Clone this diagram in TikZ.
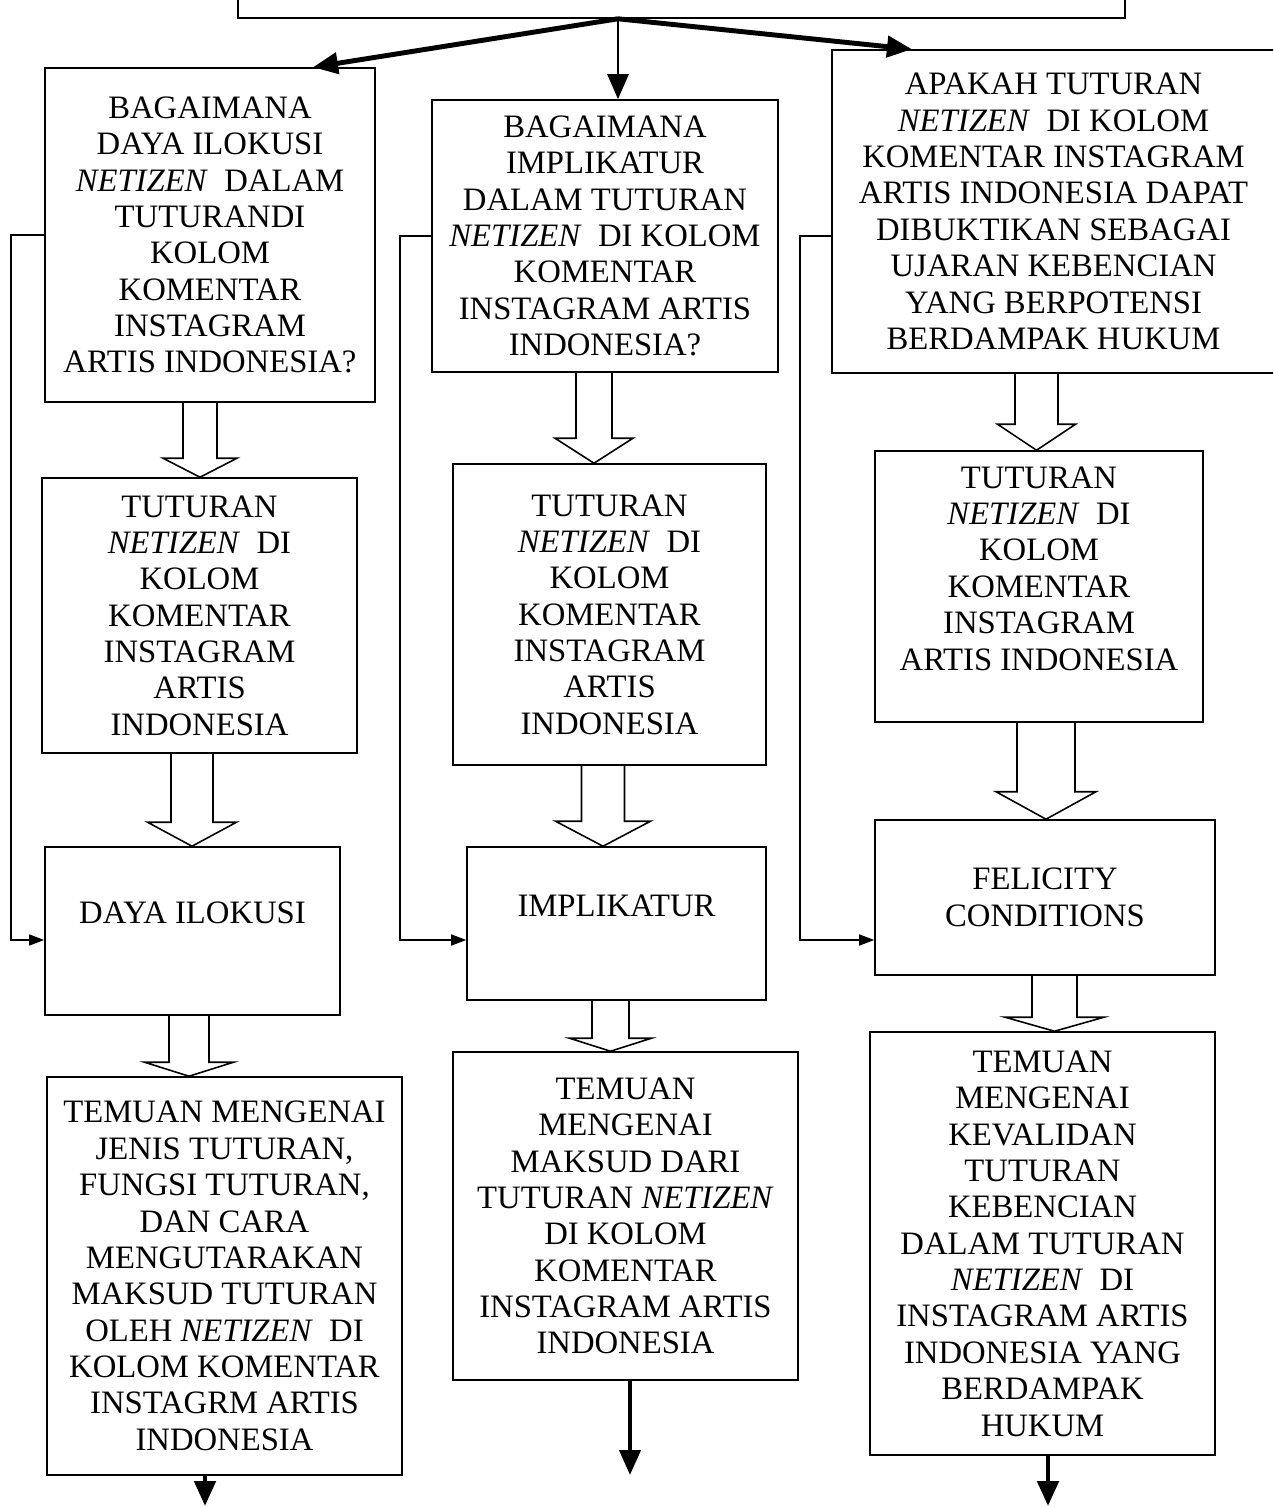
\documentclass[tikz,border=0pt]{standalone}
\usepackage{fontspec}
\setmainfont{Liberation Serif}
\usetikzlibrary{arrows.meta,calc}

\tikzset{
  box/.style={draw, line width=0.9pt, align=center, inner sep=0pt,
    font=\fontsize{18.6}{20.7}\selectfont},
  bigarrow/.style={-{Triangle[length=0.5cm,width=0.42cm]}},
  sidearrow/.style={line width=0.8pt, -{Triangle[length=0.3cm,width=0.22cm]}},
  hollow/.style={line width=0.9pt}
}

\newcommand{\hollowdown}[6]{%
  \coordinate (hd) at ($(#2.north)+(0,#6)$);
  \draw [hollow] ({#3-#4},0 |- #1.south) -- ({#3-#4},0 |- hd) -- ({#3-#5},0 |- hd)
    -- (#3,0 |- #2.north) -- ({#3+#5},0 |- hd) -- ({#3+#4},0 |- hd) -- ({#3+#4},0 |- #1.south);
}

\begin{document}
\begin{tikzpicture}
\useasboundingbox (0,0) rectangle (25.46,-30.14);
\clip (0,0) rectangle (25.46,-30.14);

\node[box, minimum width=17.74cm, minimum height=2cm] (top) at (13.63,0.64) {};

\node[box, minimum width=6.6cm, minimum height=6.68cm] (q1) at (4.2,-4.7)
  {BAGAIMANA\\DAYA ILOKUSI\\\textit{NETIZEN}~ DALAM\\TUTURANDI\\KOLOM\\KOMENTAR\\INSTAGRAM\\ARTIS INDONESIA?};
\node[box, minimum width=6.3cm, minimum height=5.5cm] (t1) at (3.99,-12.31)
  {TUTURAN\\\textit{NETIZEN}~ DI\\KOLOM\\KOMENTAR\\INSTAGRAM\\ARTIS\\INDONESIA};
\node[box, minimum width=5.9cm, minimum height=3.36cm] (d1) at (3.85,-18.62)
  {DAYA ILOKUSI\\~};
\node[box, minimum width=7.1cm, minimum height=7.96cm] (r1) at (4.49,-25.52)
  {TEMUAN MENGENAI\\JENIS TUTURAN,\\FUNGSI TUTURAN,\\DAN CARA\\MENGUTARAKAN\\MAKSUD TUTURAN\\OLEH \textit{NETIZEN}~ DI\\KOLOM KOMENTAR\\INSTAGRM ARTIS\\INDONESIA};

\node[box, minimum width=6.92cm, minimum height=5.44cm] (q2) at (12.1,-4.72)
  {BAGAIMANA\\IMPLIKATUR\\DALAM TUTURAN\\\textit{NETIZEN}~ DI KOLOM\\KOMENTAR\\INSTAGRAM ARTIS\\INDONESIA?};
\node[box, minimum width=6.26cm, minimum height=6.02cm] (t2) at (12.19,-12.29)
  {TUTURAN\\\textit{NETIZEN}~ DI\\KOLOM\\KOMENTAR\\INSTAGRAM\\ARTIS\\INDONESIA};
\node[box, minimum width=5.98cm, minimum height=3.06cm] (i2) at (12.33,-18.47)
  {IMPLIKATUR\\~};
\node[box, minimum width=6.9cm, minimum height=6.56cm] (r2) at (12.51,-24.32)
  {TEMUAN\\MENGENAI\\MAKSUD DARI\\TUTURAN \textit{NETIZEN}\\DI KOLOM\\KOMENTAR\\INSTAGRAM ARTIS\\INDONESIA};

\node[box, minimum width=8.86cm, minimum height=6.46cm] (q3) at (21.07,-4.23)
  {APAKAH TUTURAN\\\textit{NETIZEN}~ DI KOLOM\\KOMENTAR INSTAGRAM\\ARTIS INDONESIA DAPAT\\DIBUKTIKAN SEBAGAI\\UJARAN KEBENCIAN\\YANG BERPOTENSI\\BERDAMPAK HUKUM};
\node[box, minimum width=6.56cm, minimum height=5.42cm] (t3) at (20.78,-11.73)
  {TUTURAN\\\textit{NETIZEN}~ DI\\KOLOM\\KOMENTAR\\INSTAGRAM\\ARTIS INDONESIA\\~};
\node[box, minimum width=6.8cm, minimum height=3.1cm] (f3) at (20.9,-17.95)
  {FELICITY\\CONDITIONS};
\node[box, minimum width=6.9cm, minimum height=8.46cm] (r3) at (20.85,-24.87)
  {TEMUAN\\MENGENAI\\KEVALIDAN\\TUTURAN\\KEBENCIAN\\DALAM TUTURAN\\\textit{NETIZEN}~ DI\\INSTAGRAM ARTIS\\INDONESIA YANG\\BERDAMPAK\\HUKUM};

\draw [bigarrow, line width=2.8pt] (12.36,0 |- top.south) -- (6.26,0 |- q1.north);
\draw [bigarrow, line width=1.6pt] (12.36,0 |- top.south) -- (12.36,0 |- q2.north);
\draw [bigarrow, line width=2.8pt] (12.36,0 |- top.south) -- (18.24,0 |- q3.north);

\hollowdown{q1}{t1}{4.0}{0.34}{0.74}{0.38}
\hollowdown{t1}{d1}{3.84}{0.42}{0.89}{0.48}
\hollowdown{d1}{r1}{3.78}{0.4}{0.89}{0.28}
\hollowdown{q2}{t2}{11.88}{0.36}{0.78}{0.5}
\hollowdown{t2}{i2}{12.06}{0.43}{0.95}{0.5}
\hollowdown{i2}{r2}{12.21}{0.37}{0.82}{0.26}
\hollowdown{q3}{t3}{20.73}{0.43}{0.78}{0.52}
\hollowdown{t3}{f3}{20.92}{0.58}{1.0}{0.55}
\hollowdown{f3}{r3}{21.09}{0.45}{0.99}{0.28}

\draw [sidearrow] (q1.west) -- (0.22,0 |- q1.west) |- ([yshift=-0.18cm]d1.west);
\draw [sidearrow] (q2.west) -- (8.0,0 |- q2.west) |- ([yshift=-0.33cm]i2.west);
\draw [sidearrow] ([yshift=-0.49cm]q3.west) -- (16.0,-4.72) |- ([yshift=-0.85cm]f3.west);

\coordinate (e1) at (4.1,-30.12);
\coordinate (e2) at (12.6,-29.5);
\coordinate (e3) at (20.96,-30.12);
\draw [bigarrow, line width=2.8pt] (4.1,0 |- r1.south) -- (e1);
\draw [bigarrow, line width=2.4pt] (12.6,0 |- r2.south) -- (e2);
\draw [bigarrow, line width=2.8pt] (20.96,0 |- r3.south) -- (e3);

\end{tikzpicture}
\end{document}
